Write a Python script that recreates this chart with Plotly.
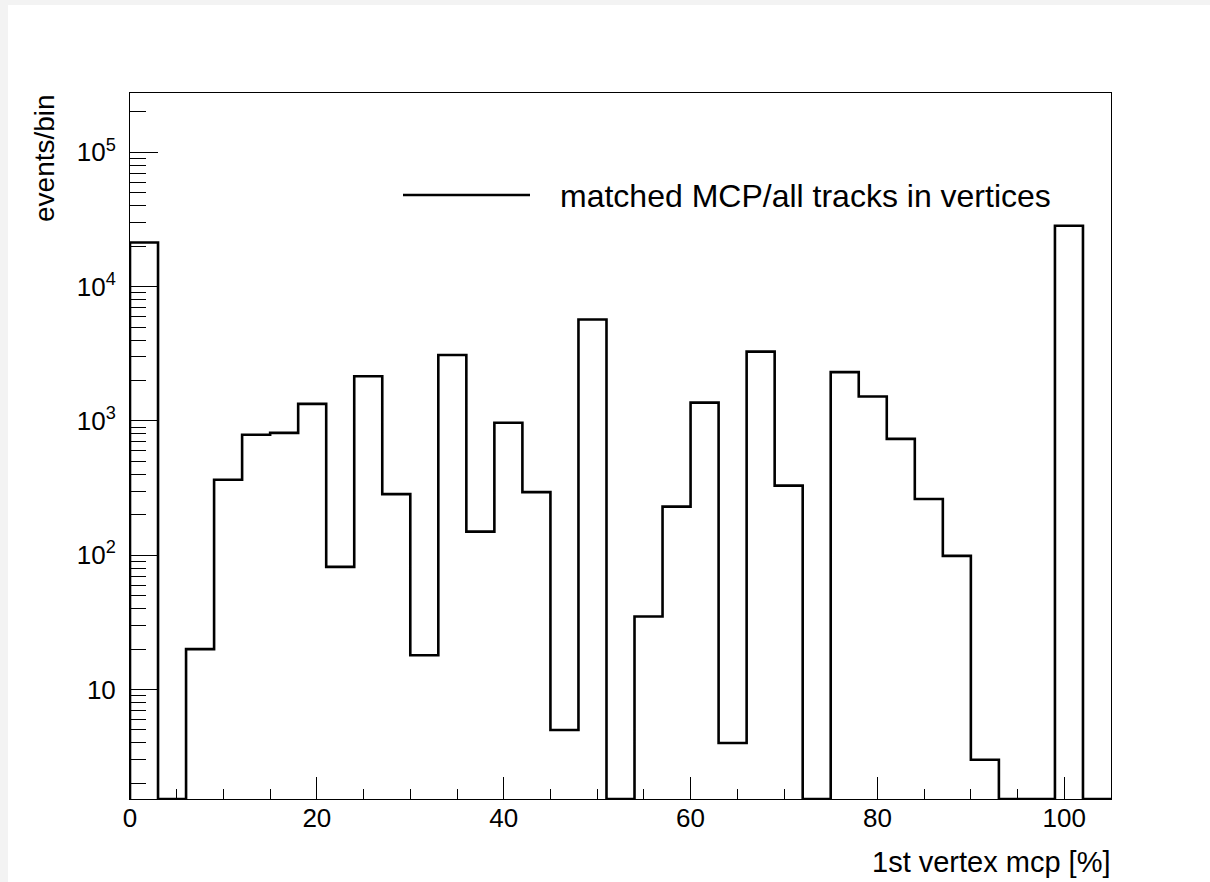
import numpy as np
import plotly.graph_objects as go

# ---- data ----
bin_start = 0
bin_width = 3
counts = [21300, 0, 20, 365, 790, 815, 1340, 82, 2150, 285, 18, 3100, 150, 970,
          295, 5, 5700, 0, 35, 230, 1370, 4, 3280, 330, 0, 2310, 1520, 735, 262,
          99, 3, 0, 0, 28400, 0]
x_tick_step = 20
x_minor_step = 5
y_tick_vals = [10, 100, 1000, 10000, 100000]
y_tick_text = ["10", "10<sup>2</sup>", "10<sup>3</sup>", "10<sup>4</sup>", "10<sup>5</sup>"]
legend_label = "matched MCP/all tracks in vertices"
x_title = "1st vertex mcp [%]"
y_title = "events/bin"

# ---- geometry ----
W, H = 1210, 882
L, R, T, B = 130, 99, 93, 83
PW, PH = W - L - R, H - T - B
y_log_min, y_log_max = 0.185, 5.442
x_min, x_max = bin_start, bin_start + bin_width * len(counts)
FONT = "Liberation Sans, Arial, Helvetica, sans-serif"


def px_x(px):
    return (px - L) / PW


def px_y(py):
    return (H - B - py) / PH


floor = 10 ** y_log_min
edges = list(bin_start + bin_width * np.arange(len(counts) + 1))
ys = [c if c > 0 else floor for c in counts]
xs = [edges[0]] + edges
yy = [floor] + ys + [ys[-1]]

fig = go.Figure()
fig.add_trace(go.Scatter(
    x=xs, y=yy, mode="lines",
    line=dict(shape="hv", color="black", width=2.6),
    showlegend=False, hoverinfo="skip",
))

tickfont = dict(family=FONT, size=26, color="black")

fig.update_layout(
    width=W, height=H,
    margin=dict(l=L, r=R, t=T, b=B, pad=0),
    paper_bgcolor="#f3f3f3",
    plot_bgcolor="white",
    showlegend=False,
    xaxis=dict(
        range=[x_min, x_max], showline=True, linecolor="black", linewidth=1,
        mirror=True, showgrid=False, zeroline=False,
        ticks="inside", ticklen=22, tickwidth=1, tickcolor="black",
        tick0=0, dtick=x_tick_step, tickfont=tickfont, ticklabelstandoff=-4,
        minor=dict(ticks="inside", ticklen=10, tickwidth=1, tickcolor="black",
                   tick0=0, dtick=x_minor_step, showgrid=False),
    ),
    yaxis=dict(
        type="log", range=[y_log_min, y_log_max], showline=True, linecolor="black",
        linewidth=1, mirror=True, showgrid=False, zeroline=False,
        ticks="inside", ticklen=28, tickwidth=1, tickcolor="black",
        tickmode="array", tickvals=y_tick_vals, ticktext=y_tick_text,
        tickfont=tickfont, ticklabelstandoff=8,
        minor=dict(ticks="inside", ticklen=16, tickwidth=1, tickcolor="black",
                   dtick="D1", showgrid=False),
    ),
    shapes=[
        dict(type="rect", xref="paper", yref="paper", layer="below",
             x0=px_x(8), x1=px_x(W), y0=px_y(H), y1=px_y(5),
             fillcolor="white", line=dict(width=0)),
        dict(type="line", xref="paper", yref="paper",
             x0=px_x(403), x1=px_x(530), y0=px_y(195), y1=px_y(195),
             line=dict(color="black", width=2.6)),
    ],
    annotations=[
        dict(text=legend_label, xref="paper", yref="paper", x=px_x(558), y=px_y(196),
             xanchor="left", yanchor="middle", showarrow=False,
             font=dict(family=FONT, size=32, color="black")),
        dict(text=x_title, xref="paper", yref="paper", x=px_x(1113), y=px_y(862),
             xanchor="right", yanchor="middle", showarrow=False,
             font=dict(family=FONT, size=29, color="black")),
        dict(text=y_title, xref="paper", yref="paper", x=px_x(45), y=px_y(92),
             xanchor="center", yanchor="top", textangle=-90, showarrow=False,
             font=dict(family=FONT, size=28, color="black")),
    ],
)

fig.write_html("out.html", config={"displayModeBar": False},
               post_script="document.body.style.margin='0';document.body.style.overflow='hidden';")
